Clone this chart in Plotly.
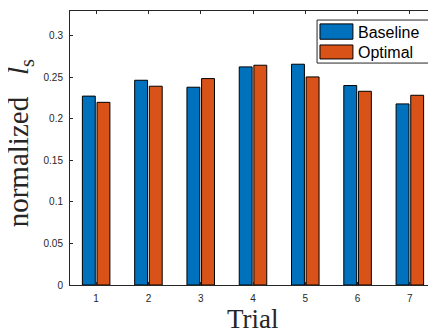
import plotly.graph_objects as go

trials = [1, 2, 3, 4, 5, 6, 7]
baseline = [0.2275, 0.2466, 0.2382, 0.2627, 0.2659, 0.2402, 0.2181]
optimal = [0.2200, 0.2394, 0.2486, 0.2647, 0.2506, 0.2333, 0.2285]
series_names = ["Baseline", "Optimal"]
series_colors = ["#0072BD", "#D95319"]
ytick_vals = [0, 0.05, 0.1, 0.15, 0.2, 0.25, 0.3]
ytick_text = ["0", "0.05", "0.1", "0.15", "0.2", "0.25", "0.3"]

axis_col = "#262626"
tick_font = dict(family="Liberation Sans, Arial, sans-serif", size=10, color=axis_col)
serif = "Liberation Serif, Times New Roman, serif"

fig = go.Figure()
for name, vals, col in zip(series_names, [baseline, optimal], series_colors):
    fig.add_trace(go.Bar(x=trials, y=vals, name=name, marker=dict(color=col, line=dict(color="#000000", width=1))))

# helper trace so that the right-hand (mirror tick) axis is drawn
fig.add_trace(go.Scatter(x=[None], y=[None], yaxis="y2", showlegend=False, hoverinfo="skip"))

# page body has an 8px default margin, so the figure is sized to the visible area
fig.update_layout(
    width=428, height=321,
    margin=dict(l=62, r=0, t=3, b=44, autoexpand=False),
    plot_bgcolor="white", paper_bgcolor="white",
    barmode="group", bargap=0.44, bargroupgap=0.12,
    showlegend=False,
    xaxis=dict(range=[0.5, 7.5], tickvals=trials, ticktext=[str(t) for t in trials],
               showline=True, linecolor=axis_col, linewidth=1, mirror="ticks",
               ticks="inside", ticklen=3, tickcolor=axis_col, tickwidth=1, automargin=False,
               showgrid=False, zeroline=False, tickfont=tick_font, ticklabelstandoff=4),
    yaxis=dict(range=[0, 0.33], tickvals=ytick_vals, ticktext=ytick_text,
               showline=True, linecolor=axis_col, linewidth=1, automargin=False,
               ticks="inside", ticklen=3, tickcolor=axis_col, tickwidth=1,
               showgrid=False, zeroline=False, tickfont=tick_font, ticklabelstandoff=4),
    yaxis2=dict(range=[0, 0.33], overlaying="y", side="right", tickvals=ytick_vals,
                showticklabels=False, showline=False, ticks="inside", ticklen=3, automargin=False,
                tickcolor=axis_col, tickwidth=1, showgrid=False, zeroline=False),
)

# axis titles
fig.add_annotation(xref="paper", yref="paper", x=0.5, y=-0.062, text="Trial", showarrow=False,
                   xanchor="center", yanchor="top",
                   font=dict(family=serif, size=27, color=axis_col))
fig.add_annotation(xref="paper", yref="paper", x=-0.136, y=0.518,
                   text="normalized&nbsp;&nbsp;&nbsp;<i>l</i><sub>s</sub>",
                   showarrow=False, textangle=-90, xanchor="center", yanchor="middle",
                   font=dict(family=serif, size=29, color=axis_col))

# legend drawn as box + patches + labels
fig.add_shape(type="rect", xref="paper", yref="paper", x0=0.675, x1=0.981, y0=0.810, y1=0.967,
              line=dict(color=axis_col, width=1), fillcolor="white", layer="above")
patch_y = [(0.897, 0.953), (0.825, 0.876)]
text_y = [0.923, 0.850]
for name, col, (y0, y1), ty in zip(series_names, series_colors, patch_y, text_y):
    fig.add_shape(type="rect", xref="paper", yref="paper", x0=0.683, x1=0.773, y0=y0, y1=y1,
                  line=dict(color="#000000", width=1), fillcolor=col, layer="above")
    fig.add_annotation(xref="paper", yref="paper", x=0.781, y=ty, text=name, showarrow=False,
                       xanchor="left", yanchor="middle",
                       font=dict(family="Liberation Sans, Arial, sans-serif", size=16, color="#000000"))

fig.write_html("out.html")
